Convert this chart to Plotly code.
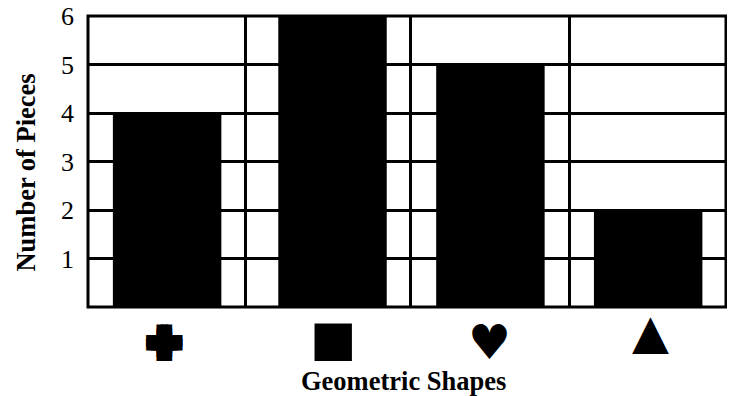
import plotly.graph_objects as go

# shapes along the bottom, drawn as text glyphs
shapes = ["\u271a", "\u25a0", "\u2665", "\u25b2"]
pieces = [4, 6, 5, 2]
# the bars are not quite evenly spaced in the picture
bar_pos = [0.496, 1.533, 2.523, 3.512]
dividers = [0.990, 2.023, 3.018]
y_ticks = [1, 2, 3, 4, 5, 6]

serif = "Liberation Serif"
sans = "DejaVu Sans"
thick = "4px 0 black, -4px 0 black, 0 4px black, 0 -4px black, 4px 4px black, -4px 4px black, 4px -4px black, -4px -4px black"

fig = go.Figure()
fig.add_trace(go.Bar(x=bar_pos, y=pieces, width=0.680, marker=dict(color="black", line=dict(width=0))))

# glyph offsets differ per shape
glyph_pos = [0.482, 1.533, 2.516, 3.525]
glyph_size = [39, 49, 48, 48]
glyph_y = [-36, -31, -34.5, -23.5]
glyph_shadow = [thick, "none", "none", "none"]
for s, gx, gs, gy, sh in zip(shapes, glyph_pos, glyph_size, glyph_y, glyph_shadow):
    fig.add_annotation(text=s, x=gx, xref="x", y=0, yref="paper", yshift=gy, xanchor="center", yanchor="middle",
                       showarrow=False, font=dict(family=sans, size=gs, color="black", shadow=sh))

fig.add_annotation(text="<b>Geometric Shapes</b>", x=0.495, xref="paper", y=0, yref="paper", yshift=-74, yanchor="middle",
                   xanchor="center", showarrow=False, font=dict(family=serif, size=26.5, color="black"))
fig.add_annotation(text="<b>Number of Pieces</b>", x=0, xref="paper", y=0.462, yref="paper", xshift=-62, xanchor="center",
                   yanchor="middle", textangle=-90, showarrow=False, font=dict(family=serif, size=26.5, color="black"))

# plotly leaves out gridlines on the range ends, so the frame is its own rect
fig.add_shape(type="rect", xref="paper", yref="paper", x0=0, x1=1, y0=0, y1=1, line=dict(color="black", width=3))

fig.update_xaxes(range=[0, 4], tickvals=dividers, ticktext=[""] * 3, ticks="", showgrid=True, gridcolor="black",
                 gridwidth=3, showline=False, zeroline=False, automargin=False)
fig.update_yaxes(range=[0, 6], tickvals=y_ticks, ticks="", showgrid=True, gridcolor="black", gridwidth=3,
                 showline=False, zeroline=False, ticklabelstandoff=13, ticklabeloverflow="allow", automargin=False,
                 tickfont=dict(family=serif, size=26, color="black"))
# the page adds 8px around the figure, so it is drawn 8px smaller
fig.update_layout(width=727, height=388, autosize=False, showlegend=False, plot_bgcolor="white", paper_bgcolor="white",
                  margin=dict(l=79.5, r=8.5, t=7.5, b=88.5, pad=0))
fig.write_html("out.html")
